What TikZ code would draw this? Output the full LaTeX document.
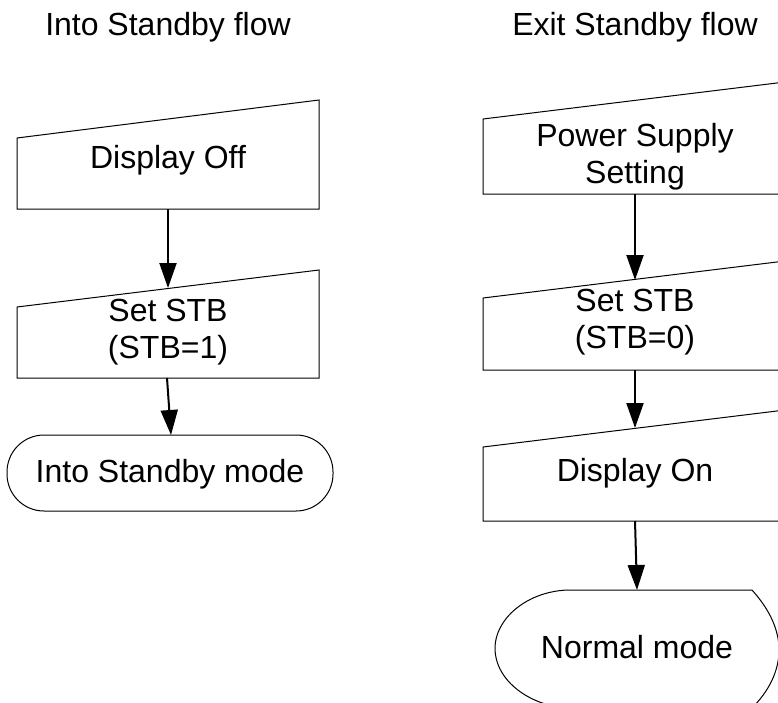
\documentclass[tikz,border=0pt]{standalone}
\usepackage{fontspec}
\setmainfont{Liberation Sans}
\usetikzlibrary{arrows.meta}
\tikzset{
  txt/.style={inner sep=0pt, align=center, font=\fontsize{32}{37}\selectfont},
  box/.style={line width=1pt, line join=miter},
  arr/.style={line width=2pt, -{Triangle[length=25pt,width=17pt]}},
}
\begin{document}
\begin{tikzpicture}[x=1pt,y=-1pt]
\useasboundingbox (0,0) rectangle (778,702);
\clip (0,0) rectangle (778,702);
% titles
\node[txt] (t1) at (168,27) {Into Standby flow};
\node[txt] (t2) at (635,27) {Exit Standby flow};
% left flow
\draw[box] (17,138) -- (319,100) -- (319,209) -- (17,209) -- cycle;
\node[txt] (A) at (168,160) {Display Off};
\coordinate (Abot) at (168,209);
\coordinate (Btop) at (168,288);
\draw[box] (17,307) -- (319,270) -- (319,378) -- (17,378) -- cycle;
\node[txt] (B) at (168,332) {Set STB\\(STB=1)};
\coordinate (Bbot) at (167,378);
\draw[box, rounded corners=37pt] (7,435) rectangle (333,511);
\node[txt] (C) at (170,474) {Into Standby mode};
\coordinate (Ctop) at (171,435);
% right flow
\draw[box] (483,119) -- (785,82) -- (785,194) -- (483,194) -- cycle;
\node[txt] (D) at (635,157) {Power Supply\\Setting};
\coordinate (Dbot) at (635,194);
\coordinate (Etop) at (635,280);
\draw[box] (483,298) -- (785,261) -- (785,370) -- (483,370) -- cycle;
\node[txt] (E) at (635,322) {Set STB\\(STB=0)};
\coordinate (Ebot) at (635,370);
\coordinate (Ftop) at (635,428);
\draw[box] (483,447) -- (785,410) -- (785,521) -- (483,521) -- cycle;
\node[txt] (F) at (635,473) {Display On};
\coordinate (Fbot) at (635,521);
\draw[box] (567,590) -- (752,590)
  .. controls (770,610) and (779,630) .. (779,650)
  .. controls (779,672) and (768,692) .. (752,708)
  -- (567,708)
  .. controls (532,706) and (495,682) .. (495,648)
  .. controls (495,620) and (525,592) .. (567,590) -- cycle;
\node[txt] (G) at (637,647) {Normal mode};
\coordinate (Gtop) at (637,590);
% connectors
\draw[arr] (Abot) -- (Btop);
\draw[arr] (Bbot) -- (Ctop);
\draw[arr] (Dbot) -- (Etop);
\draw[arr] (Ebot) -- (Ftop);
\draw[arr] (Fbot) -- (Gtop);
\end{tikzpicture}
\end{document}
